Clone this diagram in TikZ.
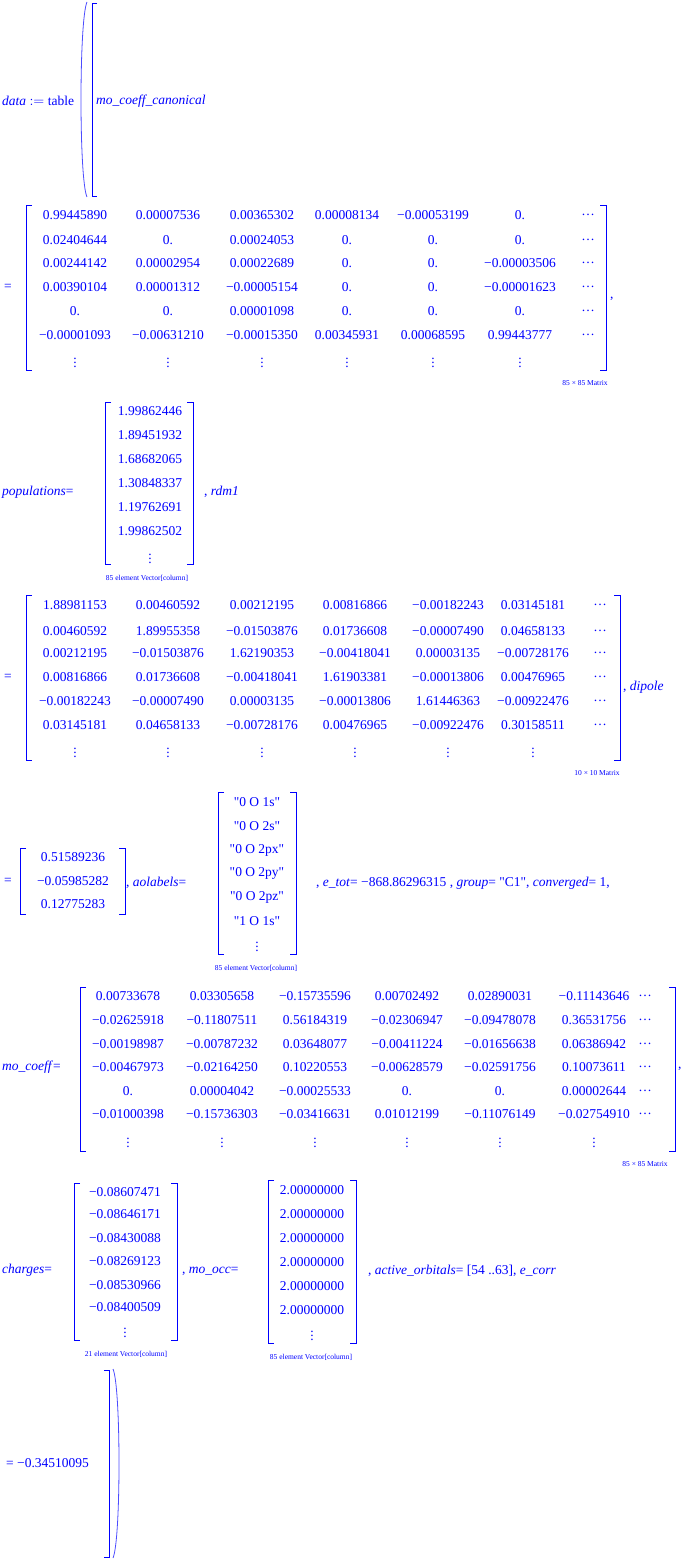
\documentclass[tikz,border=0pt]{standalone}
\usepackage{fontspec}
\setmainfont{Liberation Serif}
\newfontfamily\plainserif{Liberation Serif}
\definecolor{mblue}{RGB}{0,0,255}
\newcommand\cellrows[3]{%
  \foreach \y/\row [count=\r] in {#3} {
    \foreach \t [count=\c] in \row {
      \pgfmathsetmacro\cx{{#2,0}[\c-1]}
      \node[cell] (#1-\r-\c) at (\cx,-\y) {\t};
    }
  }}
\newcommand\brk[4]{% left x, right x, top y, bottom y
  \draw[bracket] (#1+6,-#3) -- (#1,-#3) -- (#1,-#4) -- (#1+6,-#4);
  \draw[bracket] (#2-6,-#3) -- (#2,-#3) -- (#2,-#4) -- (#2-6,-#4);}
\newcommand\vd{$\vdots$}
\newcommand\q{{\plainserif\symbol{"22}}}
\newcommand\hd{\ldots}

\begin{document}
\begin{tikzpicture}[
  x=1pt, y=1pt,
  every node/.style={text=mblue, inner sep=0pt, font=\fontsize{13.5}{16}\selectfont},
  cell/.style={anchor=center},
  txt/.style={anchor=west},
  lbl/.style={anchor=center, font=\fontsize{7.5}{9}\selectfont},
  bracket/.style={draw=mblue, line width=0.7pt},
  paren/.style={draw=mblue!70, line width=0.8pt}
]
\useasboundingbox (0,0) rectangle (684,-1562);

% header
\node[txt] (head) at (2,-101) {\textit{data} $\mathrel{:=}$ table};
\draw[paren] (87,-2) .. controls (79,-20) and (79,-180) .. (87,-197);
\draw[bracket] (97,-3) -- (92,-3) -- (92,-196) -- (97,-196);
\node[txt] (mocan) at (96,-101) {\textit{mo\_coeff\_canonical}};

% mo_coeff_canonical
\node[txt] (eq1) at (4,-287) {=};
\brk{26}{606}{205}{370}
\cellrows{ma}{75,168,262,347,433,520,588}{
  215/{0.99445890,0.00007536,0.00365302,0.00008134,−0.00053199,0.,\hd},
  240/{0.02404644,0.,0.00024053,0.,0.,0.,\hd},
  263/{0.00244142,0.00002954,0.00022689,0.,0.,−0.00003506,\hd},
  287/{0.00390104,0.00001312,−0.00005154,0.,0.,−0.00001623,\hd},
  311/{0.,0.,0.00001098,0.,0.,0.,\hd},
  335/{−0.00001093,−0.00631210,−0.00015350,0.00345931,0.00068595,0.99443777,\hd},
  360/{\vd,\vd,\vd,\vd,\vd,\vd,}}
\node[txt] (c1) at (610,-299) {,};
\node[lbl] (la) at (585,-383) {85 × 85 Matrix};

% populations
\node[txt] (pop) at (2,-492) {\textit{populations}=};
\brk{105}{193}{402}{564}
\cellrows{pv}{150}{411/{1.99862446},435/{1.89451932},459/{1.68682065},
  483/{1.30848337},507/{1.19762691},531/{1.99862502},556/{\vd}}
\node[txt] (rdm) at (204,-492) {, \textit{rdm1}};
\node[lbl] (lp) at (147,-578) {85 element Vector[column]};

% rdm1
\node[txt] (eq2) at (4,-677) {=};
\brk{26}{620}{595}{760}
\cellrows{mr}{75,168,262,355,448,533,600}{
  605/{1.88981153,0.00460592,0.00212195,0.00816866,−0.00182243,0.03145181,\hd},
  631/{0.00460592,1.89955358,−0.01503876,0.01736608,−0.00007490,0.04658133,\hd},
  653/{0.00212195,−0.01503876,1.62190353,−0.00418041,0.00003135,−0.00728176,\hd},
  677/{0.00816866,0.01736608,−0.00418041,1.61903381,−0.00013806,0.00476965,\hd},
  701/{−0.00182243,−0.00007490,0.00003135,−0.00013806,1.61446363,−0.00922476,\hd},
  725/{0.03145181,0.04658133,−0.00728176,0.00476965,−0.00922476,0.30158511,\hd},
  750/{\vd,\vd,\vd,\vd,\vd,\vd,}}
\node[txt] (dip) at (623,-687) {, \textit{dipole}};
\node[lbl] (lr) at (597,-773) {10 × 10 Matrix};

% dipole, aolabels
\node[txt] (eq3) at (4,-881) {=};
\brk{20}{125}{848}{914}
\cellrows{dv}{73}{857/{0.51589236},881/{−0.05985282},904/{0.12775283}}
\node[txt] (ao) at (126,-883) {, \textit{aolabels}=};
\brk{218}{296}{792}{954}
\cellrows{av}{257}{802/{\q0 O 1s\q},826/{\q0 O 2s\q},850/{\q0 O 2px\q},
  873/{\q0 O 2py\q},897/{\q0 O 2pz\q},921/{\q1 O 1s\q},944/{\vd}}
\node[lbl] (lao) at (256,-968) {85 element Vector[column]};
\node[txt] (etot) at (316,-883) {, \textit{e\_tot}= −868.86296315 , \textit{group}= \q C1\q, \textit{converged}= 1,};

% mo_coeff
\node[txt] (moc) at (2,-1067) {\textit{mo\_coeff}=};
\brk{80}{675}{987}{1151}
\cellrows{mc}{128,222,315,407,500,594,645}{
  996/{0.00733678,0.03305658,−0.15735596,0.00702492,0.02890031,−0.11143646,\hd},
  1020/{−0.02625918,−0.11807511,0.56184319,−0.02306947,−0.09478078,0.36531756,\hd},
  1044/{−0.00198987,−0.00787232,0.03648077,−0.00411224,−0.01656638,0.06386942,\hd},
  1067/{−0.00467973,−0.02164250,0.10220553,−0.00628579,−0.02591756,0.10073611,\hd},
  1091/{0.,0.00004042,−0.00025533,0.,0.,0.00002644,\hd},
  1114/{−0.01000398,−0.15736303,−0.03416631,0.01012199,−0.11076149,−0.02754910,\hd},
  1140/{\vd,\vd,\vd,\vd,\vd,\vd,}}
\node[txt] (c2) at (678,-1069) {,};
\node[lbl] (lm) at (645,-1164) {85 × 85 Matrix};

% charges, mo_occ
\node[txt] (chg) at (2,-1270) {\textit{charges}=};
\brk{74}{177}{1183}{1340}
\cellrows{cv}{125}{1192/{−0.08607471},1214/{−0.08646171},1238/{−0.08430088},
  1261/{−0.08269123},1285/{−0.08530966},1307/{−0.08400509},1330/{\vd}}
\node[lbl] (lc) at (126,-1354) {21 element Vector[column]};
\node[txt] (occ) at (182,-1271) {, \textit{mo\_occ}=};
\brk{268}{356}{1180}{1343}
\cellrows{ov}{312}{1190/{2.00000000},1214/{2.00000000},1238/{2.00000000},
  1262/{2.00000000},1286/{2.00000000},1310/{2.00000000},1333/{\vd}}
\node[lbl] (lo) at (311,-1357) {85 element Vector[column]};
\node[txt] (act) at (368,-1271) {, \textit{active\_orbitals}= [54 ..63], \textit{e\_corr}};

% closing
\node[txt] (ecorr) at (6,-1463) {= −0.34510095};
\draw[bracket] (104,-1370) -- (109,-1370) -- (109,-1557) -- (104,-1557);
\draw[paren] (113,-1369) .. controls (121,-1387) and (121,-1540) .. (113,-1558);
\end{tikzpicture}
\end{document}
